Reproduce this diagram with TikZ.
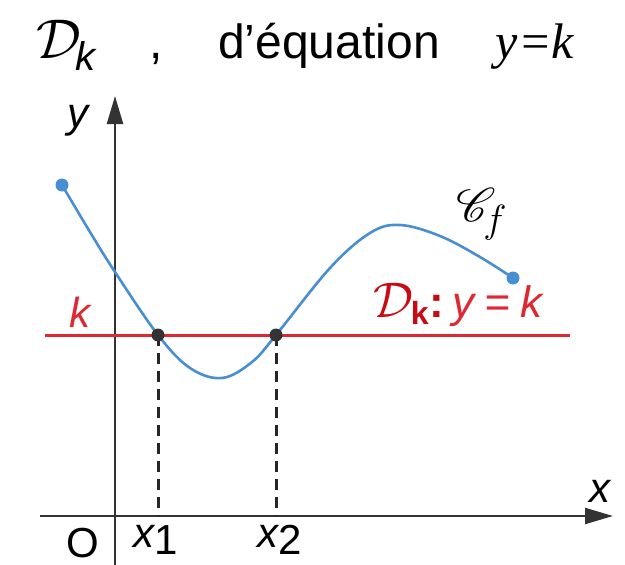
\RequirePackage{fix-cm}
\documentclass[tikz,border=0pt]{standalone}
\usepackage{amsmath}
\usepackage{graphicx}
\usepackage{mathrsfs}
\usepackage{fontspec}
\setmainfont{Liberation Sans}
\newfontfamily\timesf{Liberation Serif}
\usetikzlibrary{arrows.meta}
\definecolor{curveblue}{RGB}{72,142,210}
\definecolor{linered}{RGB}{222,40,50}
\definecolor{labred}{RGB}{200,10,20}
\tikzset{
  axis/.style={draw=black!80, line width=2.4pt, -{Triangle[length=28pt,width=16pt]}},
  curvestyle/.style={draw=curveblue, line width=2.6pt},
  redline/.style={draw=linered, line width=3pt},
  dashline/.style={draw=black!85, line width=3pt, dash pattern=on 11pt off 7pt},
  lab/.style={font=\fontsize{42}{42}\selectfont, inner sep=0pt},
  toplab/.style={font=\fontsize{48}{48}\selectfont, inner sep=0pt, anchor=base},
  dotstyle/.style={circle, inner sep=0pt, minimum size=13pt},
}
\begin{document}
\begin{tikzpicture}[x=1pt,y=-1pt]
\useasboundingbox (0,0) rectangle (625,565);
% title
\node[toplab] (tD) at (66,58) {{\fontsize{56}{56}\selectfont$\mathcal{D}$}\kern-5pt\raisebox{-12pt}{\fontsize{40}{40}\selectfont\itshape k}};
\node[toplab] (tc) at (156,58) {,};
\node[toplab] (tq) at (329,58) {d’équation};
\node[toplab, font=\fontsize{50}{50}\selectfont] (tyk) at (535,58) {\timesf\itshape y=k};
% axes
\coordinate (xs) at (40,516);
\coordinate (xe) at (613,516);
\coordinate (ys) at (115,565);
\coordinate (ye) at (115,96);
\draw[axis] (xs) -- (xe);
\draw[axis] (ys) -- (ye);
% red line
\coordinate (rs) at (45,335);
\coordinate (re) at (570,335);
\draw[redline] (rs) -- (re);
% dashed
\coordinate (p1) at (158,335);
\coordinate (p2) at (276,335);
\coordinate (f1) at (158,516);
\coordinate (f2) at (276,516);
\draw[dashline] (p1) -- (f1);
\draw[dashline] (p2) -- (f2);
% curve
\draw[curvestyle] plot[smooth, tension=0.6] coordinates {(62,185) (90,232) (115,272) (158,335) (190,368) (222,378) (252,362) (276,335) (330,268) (370,233) (400,225) (440,236) (480,257) (513,278)};
\node[dotstyle, fill=curveblue] (a) at (62,185) {};
\node[dotstyle, fill=curveblue] (b) at (513,278) {};
\node[dotstyle, fill=black!80] (i1) at (p1) {};
\node[dotstyle, fill=black!80] (i2) at (p2) {};
% labels
\node[lab] (ly) at (78,121) {\itshape y};
\node[lab, text=linered] (lk) at (80,312) {\itshape k};
\node[lab] (lx) at (600,491) {\itshape x};
\node[lab] (lO) at (83,543) {O};
\node[lab] (lx1) at (156,540) {\itshape x\raisebox{-7pt}{\upshape 1}};
\node[lab] (lx2) at (280,540) {\itshape x\raisebox{-7pt}{\upshape 2}};
\node[lab] (lC) at (482,214) {\scalebox{1.9}{\fontsize{24.88}{25}\selectfont$\mathscr{C}_{\mkern-2mu f}$}};
\node[lab, text=labred, font=\fontsize{44}{44}\selectfont] (lD) at (458,305) {{\fontsize{50}{50}\selectfont$\mathcal{D}$}\kern-3pt\raisebox{-7pt}{\fontsize{32}{32}\selectfont\bfseries k}\kern1pt\textbf{:}\kern8pt{\color{linered}\itshape y\kern10pt=\kern10pt k}};
\end{tikzpicture}
\end{document}
